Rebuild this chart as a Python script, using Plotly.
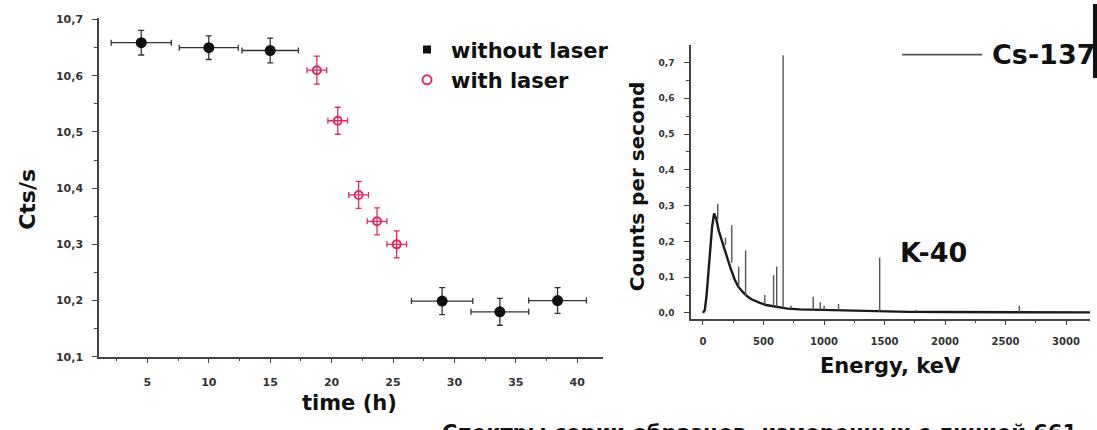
import plotly.graph_objects as go

# ---- Count rate vs time ----
t_off = [4.5, 10.0, 15.0, 29.0, 33.7, 38.4]
cps_off = [10.659, 10.650, 10.645, 10.199, 10.180, 10.200]
t_off_err = [2.45, 2.4, 2.3, 2.5, 2.35, 2.35]
cps_off_err = [0.022, 0.021, 0.022, 0.024, 0.024, 0.023]

t_on = [18.8, 20.5, 22.2, 23.7, 25.3]
cps_on = [10.610, 10.520, 10.388, 10.341, 10.300]
t_on_err = [0.8, 0.8, 0.8, 0.8, 0.8]
cps_on_err = [0.025, 0.024, 0.024, 0.024, 0.024]

time_ticks = [5, 10, 15, 20, 25, 30, 35, 40]
time_minor = [2.5, 7.5, 12.5, 17.5, 22.5, 27.5, 32.5, 37.5]
rate_ticks = [10.1, 10.2, 10.3, 10.4, 10.5, 10.6, 10.7]
rate_labels = ["10,1", "10,2", "10,3", "10,4", "10,5", "10,6", "10,7"]

# ---- Gamma spectrum ----
cont_e = [0, 15, 30, 45, 60, 75, 92, 110, 130, 165, 200, 225, 260, 290, 330,
          363, 400, 430, 471, 520, 554, 600, 650, 700, 800, 900, 1000, 1100,
          1200, 1300, 1400, 1500, 1700, 2000, 2300, 2600, 2900, 3200]
cont_cps = [0.0, 0.008, 0.05, 0.11, 0.17, 0.24, 0.278, 0.262, 0.23, 0.19, 0.155,
            0.128, 0.095, 0.074, 0.058, 0.047, 0.038, 0.033, 0.028, 0.022, 0.020,
            0.017, 0.014, 0.012, 0.010, 0.009, 0.008, 0.007, 0.006, 0.005, 0.004,
            0.003, 0.003, 0.0025, 0.002, 0.002, 0.0015, 0.0015]

line_e = [122, 186, 238, 295, 352, 511, 583, 609, 662, 727, 911, 969, 1001,
          1120, 1460, 1764, 2614]
line_base = [0.262, 0.19, 0.14, 0.074, 0.047, 0.023, 0.019, 0.017, 0.013, 0.012,
             0.009, 0.008, 0.008, 0.007, 0.004, 0.003, 0.002]
line_top = [0.305, 0.21, 0.245, 0.13, 0.175, 0.05, 0.105, 0.13, 0.72, 0.02,
            0.045, 0.03, 0.02, 0.025, 0.155, 0.008, 0.02]

energy_ticks = [0, 500, 1000, 1500, 2000, 2500, 3000]
energy_minor = [250, 750, 1250, 1750, 2250, 2750]
cps_ticks = [0.0, 0.1, 0.2, 0.3, 0.4, 0.5, 0.6, 0.7]
cps_labels = ["0,0", "0,1", "0,2", "0,3", "0,4", "0,5", "0,6", "0,7"]

W, H = 1097, 430
RED = "#e02a62"
INK = "#111111"
AXIS = "#444444"
BOLD = "DejaVu Sans"


def fx(p):
    return p / W


def fy(p):
    return 1 - p / H


fig = go.Figure()

fig.add_trace(go.Scatter(
    x=t_off, y=cps_off, mode="markers", showlegend=False,
    marker=dict(symbol="circle", size=11, color=INK),
    error_x=dict(type="data", array=t_off_err, color="#333", thickness=1.3, width=3),
    error_y=dict(type="data", array=cps_off_err, color="#333", thickness=1.3, width=3),
    xaxis="x", yaxis="y",
))
fig.add_trace(go.Scatter(
    x=t_on, y=cps_on, mode="markers", showlegend=False,
    marker=dict(symbol="circle-open", size=8, color=RED, line=dict(width=2, color=RED)),
    error_x=dict(type="data", array=t_on_err, color=RED, thickness=1.3, width=3),
    error_y=dict(type="data", array=cps_on_err, color=RED, thickness=1.3, width=3),
    xaxis="x", yaxis="y",
))
# legend entries
fig.add_trace(go.Scatter(
    x=[None], y=[None], mode="markers", name="without laser",
    marker=dict(symbol="square", size=8, color=INK), xaxis="x", yaxis="y",
))
fig.add_trace(go.Scatter(
    x=[None], y=[None], mode="markers", name="with laser",
    marker=dict(symbol="circle-open", size=9, color=RED, line=dict(width=2, color=RED)),
    xaxis="x", yaxis="y",
))

# spectrum: continuum and emission lines
fig.add_trace(go.Scatter(
    x=cont_e, y=cont_cps, mode="lines", showlegend=False,
    line=dict(color="#1a1a1a", width=2.4), xaxis="x2", yaxis="y2",
))
seg_x, seg_y = [], []
for e, b, t in zip(line_e, line_base, line_top):
    seg_x += [e, e, None]
    seg_y += [b, t, None]
fig.add_trace(go.Scatter(
    x=seg_x, y=seg_y, mode="lines", showlegend=False,
    line=dict(color="#555555", width=1.4), xaxis="x2", yaxis="y2",
))

axis_common = dict(
    showline=True, linecolor=AXIS, linewidth=1.5, mirror=False,
    ticks="outside", ticklen=5, tickwidth=1.2, tickcolor=AXIS,
    showgrid=False, zeroline=False,
)

fig.update_layout(
    width=W, height=H, margin=dict(l=0, r=0, t=0, b=0),
    paper_bgcolor="white", plot_bgcolor="white",
    xaxis=dict(
        domain=[fx(99), fx(603)], range=[1.06, 42.1], anchor="y",
        tickmode="array", tickvals=time_ticks, ticklabelstandoff=9,
        tickfont=dict(family=BOLD, size=11, color="#333", weight="bold"),
        minor=dict(tickmode="array", tickvals=time_minor, ticks="outside",
                   ticklen=3, tickcolor=AXIS),
        **axis_common,
    ),
    yaxis=dict(
        domain=[fy(362), fy(14)], range=[10.1, 10.7035], anchor="x",
        tickmode="array", tickvals=rate_ticks, ticktext=rate_labels,
        ticklabelstandoff=7,
        tickfont=dict(family=BOLD, size=11, color="#333", weight="bold"),
        minor=dict(tickmode="array", tickvals=[10.15, 10.25, 10.35, 10.45, 10.55, 10.65],
                   ticks="outside", ticklen=3, tickcolor=AXIS),
        **axis_common,
    ),
    xaxis2=dict(
        domain=[fx(691), fx(1090)], range=[-99, 3198], anchor="y2",
        tickmode="array", tickvals=energy_ticks, ticklabelstandoff=8,
        tickfont=dict(family=BOLD, size=10, color="#333", weight="bold"),
        minor=dict(tickmode="array", tickvals=energy_minor, ticks="outside",
                   ticklen=3, tickcolor=AXIS),
        **axis_common,
    ),
    yaxis2=dict(
        domain=[fy(323), fy(42)], range=[-0.0163, 0.749], anchor="x2",
        tickmode="array", tickvals=cps_ticks, ticktext=cps_labels,
        ticklabelstandoff=8,
        tickfont=dict(family=BOLD, size=9, color="#333", weight="bold"),
        minor=dict(tickmode="array",
                   tickvals=[0.05, 0.15, 0.25, 0.35, 0.45, 0.55, 0.65],
                   ticks="outside", ticklen=3, tickcolor=AXIS),
        **axis_common,
    ),
    legend=dict(
        x=fx(403), y=fy(26), xanchor="left", yanchor="top",
        bgcolor="rgba(0,0,0,0)", borderwidth=0,
        font=dict(family=BOLD, size=21, color=INK, weight="bold"),
        itemwidth=38, tracegroupgap=0,
    ),
)

ann = []
ann.append(dict(text="Cts/s", x=fx(28), y=fy(201), textangle=-90,
                font=dict(family=BOLD, size=22, color=INK, weight="bold")))
ann.append(dict(text="time (h)", x=fx(349), y=fy(409),
                font=dict(family=BOLD, size=21, color=INK, weight="bold")))
ann.append(dict(text="Counts per second", x=fx(637), y=fy(187), textangle=-90,
                font=dict(family=BOLD, size=20, color=INK, weight="bold")))
ann.append(dict(text="Energy, keV", x=fx(890), y=fy(372),
                font=dict(family=BOLD, size=21, color=INK, weight="bold")))
ann.append(dict(text="K-40", x=fx(933), y=fy(255),
                font=dict(family=BOLD, size=27, color=INK, weight="bold")))
ann.append(dict(text="Cs-137", x=fx(990), y=fy(52), xanchor="left",
                font=dict(family=BOLD, size=27, color=INK, weight="bold")))
ann.append(dict(text="Спектры серии образцов, измеренных с линией 661",
                x=fx(440), y=fy(426), xanchor="left", yanchor="top",
                font=dict(family=BOLD, size=21, color=INK, weight="bold")))
for a in ann:
    a.update(xref="paper", yref="paper", showarrow=False)
    a.setdefault("xanchor", "center")
    a.setdefault("yanchor", "middle")
fig.update_layout(annotations=ann)

fig.update_layout(shapes=[
    dict(type="line", xref="paper", yref="paper", x0=fx(902), x1=fx(982),
         y0=fy(52), y1=fy(52), line=dict(color="#555", width=1.6)),
    dict(type="rect", xref="paper", yref="paper", x0=fx(1093), x1=1.0,
         y0=fy(76), y1=1.0, line=dict(width=0), fillcolor="#111"),
])

fig.write_html("out.html")
